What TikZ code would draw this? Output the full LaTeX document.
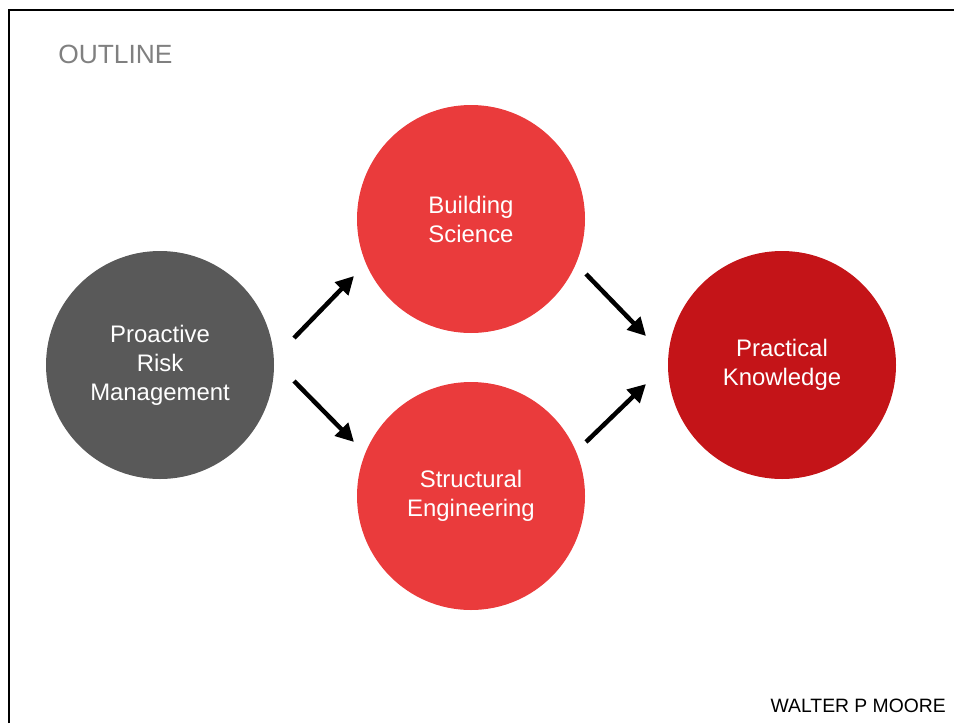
\documentclass[tikz,border=0pt]{standalone}
\usepackage{fontspec}
\setmainfont{Liberation Sans}
\usepackage{tikz}
\usetikzlibrary{arrows.meta}
\usetikzlibrary{positioning}
\definecolor{riskgrey}{HTML}{595959}
\definecolor{topicred}{HTML}{EA3B3C}
\definecolor{goalred}{HTML}{C41418}
\tikzset{topic/.style={circle,minimum size=4.56cm,inner sep=0pt,
    text=white,align=center,font=\fontsize{13.6}{16.5}\selectfont}}

\begin{document}
\begin{tikzpicture}[->,>={Triangle[length=0.36cm,width=0.36cm]},
      node distance=6.22cm,
      on grid,
      line width=0.09cm]

    \useasboundingbox (0,0) rectangle (19.08,-14.46);
    \draw[-,line width=0.04cm] (0.18,-14.46) |- (19.08,-0.2);

    \node[anchor=base west,inner sep=0pt,text=gray,font=\fontsize{15}{18}\selectfont]
      (Title) at (1.12,-1.26) {OUTLINE};
    \node[anchor=base east,inner sep=0pt,font=\fontsize{11}{13}\selectfont]
      (Logo) at (18.96,-14.24) {WALTER P MOORE};

    \node[topic,fill=riskgrey]
      (Risk) at (3.2,-7.3) {Proactive\\Risk\\Management};
    \node[topic,fill=topicred]
      (Building) [above right=2.92cm and 6.22cm of Risk] {Building\\Science};
    \node[topic,fill=topicred]
      (Structural) [below right=2.62cm and 6.22cm of Risk] {Structural\\Engineering};
    \node[topic,fill=goalred]
      (Practical) [right=12.44cm of Risk] {Practical\\Knowledge};

    % arrow ends between the circles
    \coordinate (RiskUp) at (5.88,-6.76);
    \coordinate (BuildingIn) at (7.08,-5.52);
    \coordinate (RiskDown) at (5.88,-7.62);
    \coordinate (StructuralIn) at (7.08,-8.84);
    \coordinate (BuildingOut) at (11.72,-5.48);
    \coordinate (PracticalUp) at (12.92,-6.72);
    \coordinate (StructuralOut) at (11.72,-8.84);
    \coordinate (PracticalDown) at (12.92,-7.68);

    \path[->]
      (RiskUp) edge (BuildingIn)
      (RiskDown) edge (StructuralIn)
      (BuildingOut) edge (PracticalUp)
      (StructuralOut) edge (PracticalDown);

  \end{tikzpicture}
\end{document}
